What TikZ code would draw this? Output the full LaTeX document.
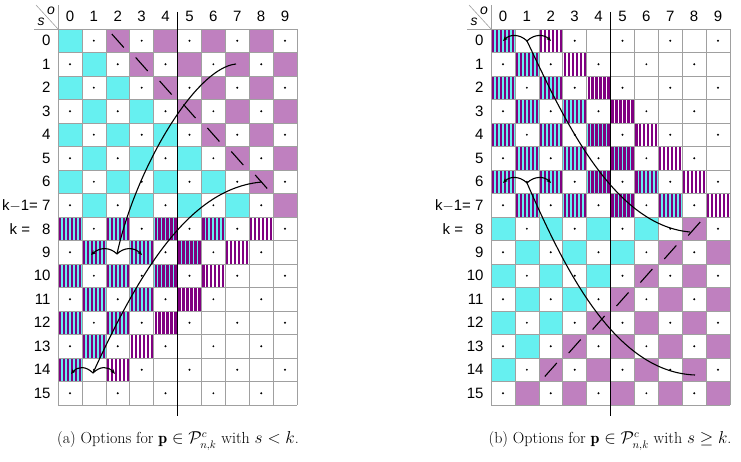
\documentclass[tikz,border=0pt]{standalone}
\usepackage{fontspec}
\newfontfamily\lab{Liberation Sans}
\usetikzlibrary{arrows.meta}
\definecolor{cy}{HTML}{66F0F0}
\definecolor{pu}{HTML}{BF80BF}
\definecolor{pd}{HTML}{800080}
\definecolor{gl}{HTML}{A0A0A0}
\newcommand\stripecell[1]{%
  \fill[#1] (\xx,\yy) rectangle ++(23.9,23.5);
  \foreach \i in {0,...,5}{\fill[pd] ({\xx+\i*3.983+0.9},\yy) rectangle ++(2.2,23.5);}}
\newcommand\solidcell[1]{\fill[#1] (\xx,\yy) rectangle ++(23.9,23.5);}
\newcommand\drawgrid[2]{%
\foreach \r in {0,...,15}{\foreach \c in {0,...,9}{%
 \pgfmathtruncatemacro\sm{\r+\c}%
 \pgfmathtruncatemacro\pr{mod(\sm,2)}%
 \pgfmathsetmacro\xx{#1+\c*23.9}\pgfmathsetmacro\yy{29+\r*23.5}%
 \ifnum\pr=1 \fill ({\xx+11.95},{\yy+11.75}) circle (1.1);
 \else
  \ifnum#2=1
    \ifnum\r<8 \ifnum\c>\r \solidcell{pu}\else\solidcell{cy}\fi
    \else \ifnum\r<15 \ifnum\sm<15 \stripecell{cy}\else\ifnum\sm=16 \stripecell{white}\fi\fi\fi\fi
  \else
    \ifnum\r<8 \ifnum\c>\r \pgfmathtruncatemacro\dd{\c-\r}\ifnum\dd=2 \stripecell{white}\fi\else\stripecell{cy}\fi
    \else \ifnum\sm<15 \solidcell{cy}\else\solidcell{pu}\fi\fi
  \fi
 \fi
}}
\foreach \i in {0,...,10}{\draw[gl,line width=0.6] ({#1+\i*23.9},29) -- ++(0,376);}
\foreach \i in {0,...,16}{\draw[gl,line width=0.6] (#1,{29+\i*23.5}) -- ++(239,0);}
\draw[gl,line width=0.6] (#1,29) -- ++(-24,0);
\draw[gl,line width=0.6] (#1,29) -- (#1,5);
\draw[gl,line width=0.6] ({#1-22},5) -- (#1,29);
\node[font=\lab\itshape\fontsize{14}{14}\selectfont] at ({#1-7},11) {o};
\node[font=\lab\itshape\fontsize{14}{14}\selectfont] at ({#1-17},22) {s};
\foreach \c in {0,...,9}{\node[font=\lab\fontsize{15}{15}\selectfont] at ({#1+\c*23.9+11.95},16) {\c};}
\foreach \r in {0,...,15}{\node[font=\lab\fontsize{15}{15}\selectfont,anchor=east] at ({#1-4},{29+\r*23.5+11.75}) {\ifnum\r=7 k$-$1= 7\else\ifnum\r=8 k =\hspace{12pt}8\else\r\fi\fi};}
\draw[line width=1.3] ({#1+5*23.9},12) -- ({#1+5*23.9},416);
}
\begin{document}
\begin{tikzpicture}[x=1pt,y=-1pt,
  crv/.style={line width=1.1},
  fk/.style={line width=1.1,-{Stealth[length=5pt,width=4pt]}},
  bar/.style={line width=1.1}]
\useasboundingbox (0,0) rectangle (741,462);
\drawgrid{58}{1}
\drawgrid{491}{2}
% strokes (a)
\foreach \r in {0,...,6}{\pgfmathsetmacro\xx{58+(\r+2)*23.9}\pgfmathsetmacro\yy{29+\r*23.5}
  \draw[bar] ({\xx+6},{\yy+5}) -- ({\xx+18},{\yy+18.5});}
% strokes (b)
\foreach \r in {8,...,14}{\pgfmathsetmacro\xx{491+(16-\r)*23.9}\pgfmathsetmacro\yy{29+\r*23.5}
  \draw[bar] ({\xx+6},{\yy+18.5}) -- ({\xx+18},{\yy+5});}
% curves (a)
\coordinate (a1s) at (236,64);
\coordinate (a1f) at (117,254);
\coordinate (a1l) at (91,255);
\coordinate (a1r) at (142,255);
\draw[crv] (a1s) .. controls (195,68) and (135,170) .. (a1f);
\draw[fk] (a1f) .. controls (110,247) and (100,247) .. (a1l);
\draw[fk] (a1f) .. controls (124,247) and (134,247) .. (a1r);
\coordinate (a2e) at (262,182);
\coordinate (a2f) at (93,373);
\coordinate (a2l) at (71,374);
\coordinate (a2r) at (115,374);
\draw[crv] (a2f) .. controls (140,270) and (190,188) .. (a2e);
\draw[fk] (a2f) .. controls (86,366) and (78,366) .. (a2l);
\draw[fk] (a2f) .. controls (100,366) and (108,366) .. (a2r);
% curves (b)
\coordinate (b1f) at (527,41);
\coordinate (b1l) at (503,41);
\coordinate (b1r) at (551,41);
\coordinate (b1e) at (690,232);
\draw[crv] (b1f) .. controls (560,110) and (610,225) .. (b1e);
\draw[fk] (b1f) .. controls (520,34) and (510,34) .. (b1l);
\draw[fk] (b1f) .. controls (534,34) and (544,34) .. (b1r);
\coordinate (b2f) at (527,183);
\coordinate (b2l) at (503,183);
\coordinate (b2r) at (551,183);
\coordinate (b2e) at (695,375);
\draw[crv] (b2f) .. controls (565,270) and (615,372) .. (b2e);
\draw[fk] (b2f) .. controls (520,176) and (510,176) .. (b2l);
\draw[fk] (b2f) .. controls (534,176) and (544,176) .. (b2r);
% captions
\node[font=\fontsize{16}{18}\selectfont] (capa) at (178,441) {(a) Options for $\mathbf{p}\in\mathcal{P}^c_{n,k}$ with $s<k$.};
\node[font=\fontsize{16}{18}\selectfont] (capb) at (610,441) {(b) Options for $\mathbf{p}\in\mathcal{P}^c_{n,k}$ with $s\geq k$.};
\end{tikzpicture}
\end{document}
